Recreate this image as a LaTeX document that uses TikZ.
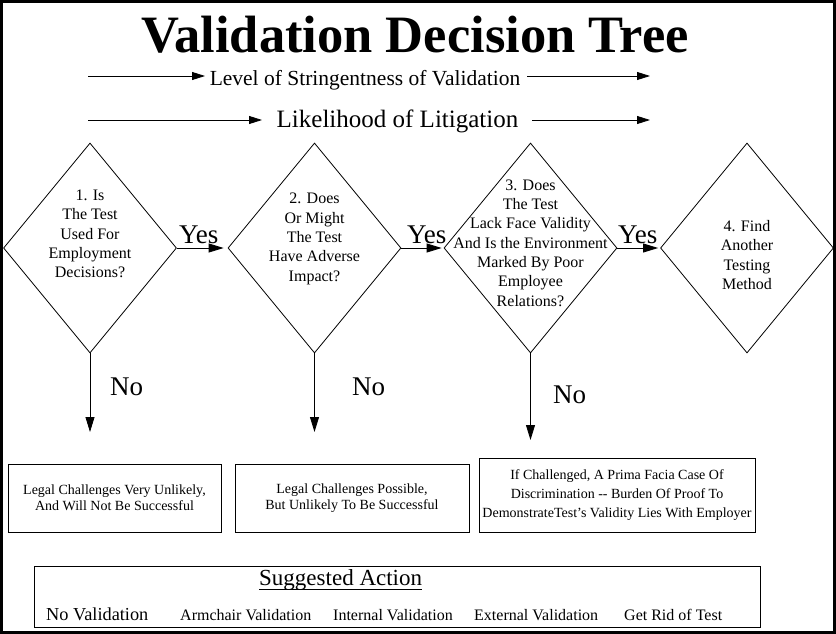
\documentclass[tikz,border=0pt]{standalone}
\usepackage{fontspec}
\setmainfont{Liberation Serif}
\usetikzlibrary{shapes.geometric,arrows.meta}
\begin{document}
\begin{tikzpicture}[x=1pt,y=-1pt,
  dia/.style={draw, diamond, minimum width=173pt, minimum height=210pt, inner sep=0pt, line width=0.8pt},
  qtext/.style={align=center, font=\fontsize{16}{19.3}\selectfont, inner sep=0pt},
  yesno/.style={font=\fontsize{27}{30}\selectfont, inner sep=0pt},
  flow/.style={-{Triangle[length=15pt,width=9pt]}, line width=0.8pt},
  headarrow/.style={-{Triangle[length=13pt,width=8pt]}, line width=0.8pt},
  outbox/.style={draw, line width=0.8pt, inner sep=0pt, align=center, font=\fontsize{14}{16}\selectfont},
  row/.style={inner sep=0pt, anchor=base west, font=\fontsize{16}{18}\selectfont},
]
\useasboundingbox (0,0) rectangle (836,634);
\draw[line width=3pt] (1.5,1.5) rectangle (834.5,632.5);

% title and scales
\node[inner sep=0pt, anchor=base, font=\fontsize{52.5}{58}\selectfont\bfseries] (title) at (415,52.5) {Validation Decision Tree};
\node[inner sep=0pt, anchor=base, font=\fontsize{21.5}{26}\selectfont] (lev) at (365,85) {Level of Stringentness of Validation};
\node[inner sep=0pt, anchor=base, font=\fontsize{25}{28}\selectfont] (lik) at (397.5,128) {Likelihood of Litigation};
\coordinate (l1a) at (88,76);
\coordinate (l1b) at (205,76);
\coordinate (l1c) at (527,76);
\coordinate (l1d) at (650,76);
\coordinate (l2a) at (88,120);
\coordinate (l2b) at (262,120);
\coordinate (l2c) at (532,120);
\coordinate (l2d) at (650,120);
\draw[headarrow] (l1a) -- (l1b);
\draw[headarrow] (l1c) -- (l1d);
\draw[headarrow] (l2a) -- (l2b);
\draw[headarrow] (l2c) -- (l2d);

% diamonds
\node[dia] (d1) at (90,248) {};
\node[dia] (d2) at (314.5,248) {};
\node[dia] (d3) at (530.5,248) {};
\node[dia] (d4) at (747,248) {};
\node[qtext] (t1) at (90,234) {1. Is\\The Test\\Used For\\Employment\\Decisions?};
\node[qtext] (t2) at (314.5,239) {2. Does\\Or Might\\The Test\\Have Adverse\\Impact?};
\node[qtext] (t3) at (530.5,243) {3. Does\\The Test\\Lack Face Validity\\And Is the Environment\\Marked By Poor\\Employee\\Relations?};
\node[qtext] (t4) at (747,255) {4. Find\\Another\\Testing\\Method};

% yes arrows
\draw[flow, shorten >=4pt] (d1.east) -- (d2.west);
\draw[flow, shorten >=2pt] (d2.east) -- (d3.west);
\draw[flow, shorten >=2pt] (d3.east) -- (d4.west);
\node[yesno, anchor=base west] (y1) at (179,243) {Yes};
\node[yesno, anchor=base west] (y2) at (407,243) {Yes};
\node[yesno, anchor=base west] (y3) at (618,243) {Yes};

% no arrows
\coordinate (n1) at (90,432);
\coordinate (n2) at (314.5,432);
\coordinate (n3) at (530.5,440);
\draw[flow] (d1.south) -- (n1);
\draw[flow] (d2.south) -- (n2);
\draw[flow] (d3.south) -- (n3);
\node[yesno, anchor=base west] (no1) at (110,395) {No};
\node[yesno, anchor=base west] (no2) at (352,395) {No};
\node[yesno, anchor=base west] (no3) at (553,403) {No};

% outcome boxes
\node[outbox, minimum width=213pt, minimum height=68pt] (b1) at (114.5,498) {Legal Challenges Very Unlikely,\\And Will Not Be Successful};
\node[outbox, minimum width=234pt, minimum height=68pt] (b2) at (352,498) {Legal Challenges Possible,\\But Unlikely To Be Successful};
\node[outbox, minimum width=276pt, minimum height=74pt, font=\fontsize{14}{19}\selectfont] (b3) at (617,495) {If Challenged, A Prima Facia Case Of\\Discrimination -{}- Burden Of Proof To\\DemonstrateTest's Validity Lies With Employer};

% suggested action
\node[draw, line width=0.8pt, minimum width=726pt, minimum height=61pt, inner sep=0pt] (sa) at (397,596.5) {};
\node[inner sep=0pt, anchor=base west, font=\fontsize{23}{26}\selectfont] (sat) at (259,585) {Suggested Action};
\draw[line width=1.8pt] ([yshift=-4.5pt]sat.base west) -- ([yshift=-4.5pt]sat.base east);
\node[row, font=\fontsize{18.3}{20}\selectfont] (r1) at (46,620) {No Validation};
\node[row] (r2) at (180,620) {Armchair Validation};
\node[row] (r3) at (333,620) {Internal Validation};
\node[row] (r4) at (474,620) {External Validation};
\node[row] (r5) at (624,620) {Get Rid of Test};
\end{tikzpicture}
\end{document}
